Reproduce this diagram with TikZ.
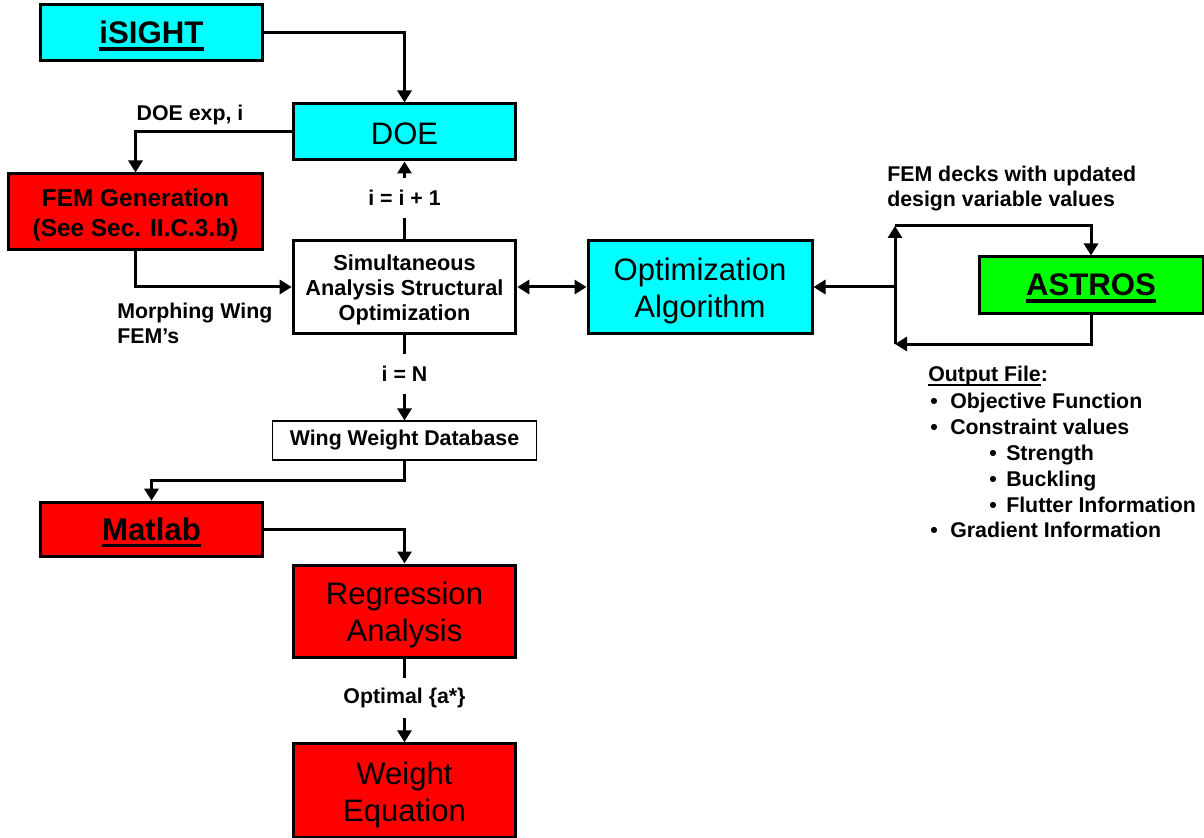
\documentclass[tikz,border=0pt]{standalone}
\usepackage{fontspec}
\setmainfont{Liberation Sans}
\usetikzlibrary{arrows.meta}
\definecolor{cy}{RGB}{0,255,255}
\definecolor{rd}{RGB}{255,0,0}
\definecolor{gr}{RGB}{0,255,0}
\newcommand\myul[3]{\setbox0\hbox{#3}\leavevmode\rlap{\rule[#1]{\wd0}{#2}}\box0}
\newcommand\stru[1]{\rule{0pt}{#1}}
\tikzset{
  box/.style={draw, line width=2.25pt, inner sep=0pt, align=center, text=black},
  cyanbox/.style={box, fill=cy},
  redbox/.style={box, fill=rd},
  greenbox/.style={box, fill=gr},
  big/.style={font=\fontsize{23.3}{27.75}\selectfont},
  bigb/.style={font=\fontsize{23.4}{28}\selectfont\bfseries},
  lbl/.style={font=\fontsize{16}{18.75}\selectfont\bfseries},
  gaplbl/.style={lbl, minimum height=30pt, inner sep=0pt},
  line/.style={line width=2.25pt},
  tip/.tip={Triangle[length=9pt,width=10.5pt]},
  conn/.style={line width=2.25pt, -tip},
  dconn/.style={line width=2.25pt, tip-tip},
}
\begin{document}
\begin{tikzpicture}[x=0.75pt, y=-0.75pt]
\useasboundingbox[fill=white] (0,0) rectangle (1204,838);

% boxes
\node[cyanbox, bigb, minimum width=167pt, minimum height=42pt] (isight) at (151.5,33) {\stru{21.3pt}\myul{-5pt}{2.6pt}{iSIGHT}};
\node[cyanbox, big, minimum width=167pt, minimum height=42pt] (doe) at (404.5,132) {\stru{18.5pt}DOE};
\node[redbox, font=\fontsize{18.3}{23}\selectfont\bfseries, minimum width=191pt, minimum height=57pt] (fem) at (135.5,212) {\stru{17.8pt}FEM Generation\\(See Sec. II.C.3.b)};
\node[box, fill=white, font=\fontsize{16.3}{18.6}\selectfont\bfseries, minimum width=167pt, minimum height=69pt] (sim) at (404.5,287) {\stru{16.5pt}Simultaneous\\Analysis Structural\\Optimization};
\node[cyanbox, big, minimum width=168pt, minimum height=69pt] (opt) at (700,287) {\stru{23.5pt}Optimization\\Algorithm};
\node[greenbox, bigb, minimum width=168pt, minimum height=42pt] (astros) at (1091,285) {\stru{21.3pt}\myul{-5pt}{2.6pt}{ASTROS}};
\node[draw, line width=0.8pt, fill=white, lbl, inner sep=0pt, minimum width=198pt, minimum height=29.25pt] (wwd) at (404.5,440.5) {Wing Weight Database};
\node[redbox, bigb, minimum width=167pt, minimum height=41pt] (matlab) at (151.5,529.5) {\stru{21.3pt}\myul{-5pt}{2.6pt}{Matlab}};
\node[redbox, big, minimum width=167pt, minimum height=69pt] (reg) at (404.5,611) {\stru{23.5pt}Regression\\Analysis};
\node[redbox, big, minimum width=167pt, minimum height=70pt] (weight) at (404.5,790.5) {\stru{23.5pt}Weight\\Equation};

% gap labels on vertical connectors
\node[gaplbl] (li) at (404.5,198) {i = i + 1};
\node[gaplbl] (ln) at (404.5,374) {i = N};
\node[gaplbl] (lo) at (404.5,698) {Optimal \{a*\}};

% free labels
\node[lbl] (ldoe) at (190,115) {DOE exp, i};
\node[lbl, anchor=west, align=left, inner sep=0pt] (lmorph) at (117,323) {Morphing Wing\\FEM’s};
\node[lbl, anchor=west, align=left, inner sep=0pt] (lfem) at (887,189) {FEM decks with updated\\design variable values};

% output file list
\node[lbl, anchor=base west, inner sep=0pt] (ohead) at (928,381) {\myul{-3.5pt}{1.5pt}{Output File}:};
\node[lbl, anchor=base west, inner sep=0pt] (o1) at (930,408) {\makebox[15pt][l]{•}Objective Function};
\node[lbl, anchor=base west, inner sep=0pt] (o2) at (930,434) {\makebox[15pt][l]{•}Constraint values};
\node[lbl, anchor=base west, inner sep=0pt] (o3) at (989,460) {\makebox[12.75pt][l]{•}Strength};
\node[lbl, anchor=base west, inner sep=0pt] (o4) at (989,486) {\makebox[12.75pt][l]{•}Buckling};
\node[lbl, anchor=base west, inner sep=0pt] (o5) at (989,512) {\makebox[12.75pt][l]{•}Flutter Information};
\node[lbl, anchor=base west, inner sep=0pt] (o6) at (930,537) {\makebox[15pt][l]{•}Gradient Information};

% connectors
\draw[conn] (isight.east) -| (doe.north);
\draw[conn] (doe.west) -| (fem.north);
\draw[conn] (fem.south) |- (sim.west);
\draw[line] (sim.north) -- (li.south);
\draw[conn] (li.north) -- (doe.south);
\draw[dconn] (sim.east) -- (opt.west);

\coordinate (lt) at (895,226);
\coordinate (lb) at (895,344);
\coordinate (lm) at (895,287);
\draw[conn] (astros.south) |- (lb);
\draw[conn] (lb) -- (lt);
\draw[conn] (lt) -| (astros.north);
\draw[conn] (lm) -- (opt.east);

\draw[line] (sim.south) -- (ln.north);
\draw[conn] (ln.south) -- (wwd.north);
\coordinate (wm) at (404.5,480);
\draw[conn] (wwd.south) -- (wm) -| (matlab.north);
\draw[conn] (matlab.east) -| (reg.north);
\draw[line] (reg.south) -- (lo.north);
\draw[conn] (lo.south) -- (weight.north);
\end{tikzpicture}
\end{document}
